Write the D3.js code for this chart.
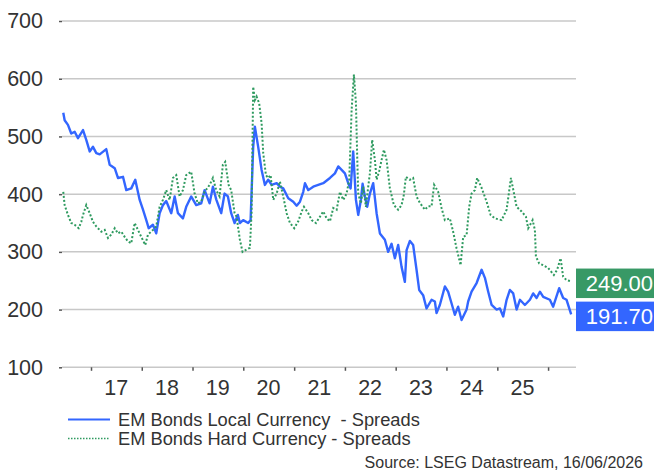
<!DOCTYPE html>
<html>
<head>
<meta charset="utf-8">
<script src="https://cdn.jsdelivr.net/npm/d3@7"></script>
<style>
  body { margin: 0; background: #fff; }
  svg { display: block; font-family: "Liberation Sans", Arial, sans-serif; }
  .legend-text { white-space: pre; }
</style>
</head>
<body>
<div id="chart"></div>
<script>
// Series names
const seriesNames = ["EM Bonds Local Currency  - Spreads", "EM Bonds Hard Currency - Spreads"];

// Local currency spreads (decimal year / value)
const localT = [2016.455,2016.482,2016.547,2016.612,2016.679,2016.744,2016.843,2016.907,2016.974,2017.039,
  2017.104,2017.171,2017.301,2017.368,2017.467,2017.531,2017.630,2017.695,2017.793,2017.872,
  2017.959,2018.024,2018.089,2018.136,2018.220,2018.285,2018.352,2018.417,2018.482,2018.581,
  2018.648,2018.713,2018.811,2018.876,2018.974,2019.073,2019.171,2019.238,2019.337,2019.402,
  2019.467,2019.565,2019.632,2019.697,2019.762,2019.829,2019.894,2019.933,2019.998,2020.096,
  2020.144,2020.195,2020.228,2020.293,2020.360,2020.425,2020.490,2020.557,2020.656,2020.720,
  2020.785,2020.884,2020.982,2021.049,2021.114,2021.179,2021.213,2021.278,2021.376,2021.474,
  2021.573,2021.705,2021.803,2021.868,2021.935,2022.000,2022.065,2022.112,2022.163,2022.217,
  2022.262,2022.315,2022.348,2022.394,2022.439,2022.492,2022.557,2022.624,2022.689,2022.787,
  2022.852,2022.919,2022.984,2023.049,2023.116,2023.181,2023.215,2023.280,2023.344,2023.411,
  2023.463,2023.541,2023.608,2023.707,2023.772,2023.805,2023.870,2023.969,2024.033,2024.100,
  2024.165,2024.230,2024.297,2024.396,2024.427,2024.494,2024.593,2024.691,2024.756,2024.821,
  2024.888,2024.986,2025.051,2025.116,2025.183,2025.248,2025.313,2025.380,2025.445,2025.543,
  2025.642,2025.707,2025.774,2025.839,2025.904,2026.035,2026.100,2026.219,2026.297,2026.364,2026.455];
const localV = [541,528,520,505,508,497,511,494,474,482,
  471,469,478,451,445,428,430,407,410,425,
  390,373,355,341,347,332,367,381,388,367,
  396,367,358,378,396,381,384,407,384,413,
  391,367,401,396,367,350,364,350,355,350,
  355,482,517,482,442,416,425,416,419,413,
  410,393,387,380,387,404,419,407,413,416,
  419,428,436,448,442,436,419,410,474,390,
  364,390,418,396,378,401,419,367,332,321,
  300,314,289,312,274,248,303,319,312,269,
  234,225,202,217,214,194,208,240,231,211,
  191,205,182,200,214,231,246,269,255,231,
  208,200,202,188,217,234,228,200,217,208,
  217,228,220,231,222,217,205,237,220,217,191.7];

// Hard currency spreads (decimal year / value)
const hardT = [2016.455,2016.482,2016.547,2016.612,2016.679,2016.758,2016.809,2016.843,2016.907,2016.974,
  2017.039,2017.104,2017.203,2017.270,2017.335,2017.400,2017.467,2017.531,2017.596,2017.663,
  2017.728,2017.793,2017.860,2017.925,2017.990,2018.069,2018.122,2018.220,2018.285,2018.352,
  2018.417,2018.482,2018.549,2018.614,2018.679,2018.746,2018.811,2018.876,2018.974,2019.041,
  2019.106,2019.171,2019.238,2019.337,2019.402,2019.467,2019.533,2019.598,2019.644,2019.711,
  2019.762,2019.829,2019.868,2019.933,2019.986,2020.065,2020.130,2020.163,2020.195,2020.228,
  2020.262,2020.313,2020.360,2020.392,2020.445,2020.490,2020.537,2020.589,2020.656,2020.720,
  2020.785,2020.852,2020.917,2021.002,2021.081,2021.148,2021.193,2021.278,2021.344,2021.429,
  2021.508,2021.573,2021.640,2021.705,2021.770,2021.837,2021.902,2021.967,2022.033,2022.085,
  2022.132,2022.177,2022.217,2022.242,2022.262,2022.315,2022.360,2022.413,2022.459,2022.492,
  2022.537,2022.591,2022.624,2022.675,2022.722,2022.768,2022.821,2022.886,2022.965,2023.049,
  2023.116,2023.161,2023.201,2023.280,2023.344,2023.411,2023.476,2023.575,2023.640,2023.707,
  2023.758,2023.837,2023.904,2023.969,2024.067,2024.132,2024.199,2024.278,2024.329,2024.396,
  2024.447,2024.494,2024.559,2024.604,2024.691,2024.789,2024.868,2024.953,2025.085,2025.183,
  2025.268,2025.313,2025.380,2025.478,2025.563,2025.608,2025.695,2025.740,2025.760,2025.825,
  2025.904,2026.002,2026.114,2026.179,2026.246,2026.297,2026.364,2026.455];
const hardV = [404,381,364,350,347,341,352,364,381,367,
  352,344,335,338,324,330,341,332,335,326,
  318,315,350,338,326,312,330,338,344,378,
  390,407,390,428,433,396,407,433,439,401,
  384,387,404,416,428,407,396,451,456,416,
  407,367,361,321,300,304,307,367,586,563,
  569,557,523,471,433,428,433,390,401,422,
  396,367,350,341,353,370,378,367,355,350,
  361,370,358,353,376,373,404,390,401,425,
  546,607,558,465,401,384,413,378,413,436,
  494,459,425,440,459,477,459,410,381,373,
  381,399,430,425,428,396,385,373,379,379,
  416,404,376,355,358,335,306,277,326,329,
  378,401,407,428,411,387,364,358,355,373,
  428,408,378,370,361,341,355,338,292,280,
  277,272,260,269,289,257,251,249];

// Axis labels
const yTicks = [100, 200, 300, 400, 500, 600, 700];
const yearLabels = ["17", "18", "19", "20", "21", "22", "23", "24", "25"];
const endLabels = ["191.70", "249.00"];
const sourceText = "Source: LSEG Datastream, 16/06/2026";

const colors = { local: "#3366ff", hard: "#2e9a5f", localBox: "#3366ff", hardBox: "#389966" };

// decimal year -> Date
function toDate(t) {
  const y = Math.floor(t);
  const s = new Date(y, 0, 1), e = new Date(y + 1, 0, 1);
  return new Date(+s + (t - y) * (e - s));
}

const W = 654, H = 474;
const plot = { left: 62, right: 576, top: 21, bottom: 367.3 };

const svg = d3.select("#chart").append("svg")
  .attr("width", W)
  .attr("height", H);

const x = d3.scaleTime()
  .domain([toDate(2016.43), toDate(2026.55)])
  .range([plot.left, plot.right]);

const y = d3.scaleLinear()
  .domain([100, 700])
  .range([plot.bottom, plot.top]);

// gridlines
svg.append("g")
  .selectAll("line")
  .data(yTicks)
  .enter().append("line")
  .attr("x1", plot.left)
  .attr("x2", plot.right)
  .attr("y1", d => y(d))
  .attr("y2", d => y(d))
  .attr("stroke", "#c8c8c8")
  .attr("stroke-width", 1.5);

// y axis: little ticks + labels
const yAxis = svg.append("g")
  .attr("transform", `translate(${plot.left},0)`)
  .call(d3.axisLeft(y).tickValues(yTicks).tickSize(3).tickPadding(16));
yAxis.select(".domain").remove();
yAxis.selectAll(".tick line").attr("stroke", "#555").attr("stroke-width", 1.5);
yAxis.selectAll(".tick text")
  .attr("fill", "#333")
  .style("font-size", "21.5px")
  .style("font-family", "Liberation Sans, Arial, sans-serif");

// x axis: ticks at year starts, labels mid-year
const yearStarts = d3.range(2017, 2027).map(yy => new Date(yy, 0, 1));
const xAxis = svg.append("g")
  .attr("transform", `translate(0,${plot.bottom})`)
  .call(d3.axisBottom(x).tickValues(yearStarts).tickSize(3.5).tickFormat(""));
xAxis.select(".domain").remove();
xAxis.selectAll(".tick line").attr("stroke", "#555").attr("stroke-width", 1.5);

svg.append("g")
  .selectAll("text")
  .data(yearLabels)
  .enter().append("text")
  .attr("x", (d, i) => x(new Date(2017 + i, 6, 1)))
  .attr("y", 394.5)
  .attr("text-anchor", "middle")
  .attr("fill", "#333")
  .style("font-size", "21.5px")
  .text(d => d);

// lines
const line = d3.line()
  .x(d => x(toDate(d[0])))
  .y(d => y(d[1]));

const localData = d3.zip(localT, localV);
const hardData = d3.zip(hardT, hardV);

svg.append("path")
  .datum(localData)
  .attr("fill", "none")
  .attr("stroke", colors.local)
  .attr("stroke-width", 2.4)
  .attr("stroke-linejoin", "round")
  .attr("d", line);

svg.append("path")
  .datum(hardData)
  .attr("fill", "none")
  .attr("stroke", colors.hard)
  .attr("stroke-width", 2)
  .attr("stroke-dasharray", "2,2")
  .attr("d", line);

// end value boxes
const boxes = [
  { v: hardV[hardV.length - 1], label: endLabels[1], fill: colors.hardBox },
  { v: localV[localV.length - 1], label: endLabels[0], fill: colors.localBox }
];
const boxH = 29.5;
const bg = svg.append("g")
  .selectAll("g")
  .data(boxes)
  .enter().append("g")
  .attr("transform", d => `translate(${plot.right},${y(d.v) + 2 - boxH / 2})`);
bg.append("rect")
  .attr("width", W - plot.right)
  .attr("height", boxH)
  .attr("fill", d => d.fill);
bg.append("text")
  .attr("x", W - plot.right - 1)
  .attr("y", boxH / 2 + 8)
  .attr("text-anchor", "end")
  .attr("fill", "#fff")
  .style("font-size", "22px")
  .text(d => d.label);

// legend
const legend = svg.append("g");
const legendRows = [
  { name: seriesNames[0], color: colors.local, dash: null, w: 2.2 },
  { name: seriesNames[1], color: colors.hard, dash: "1.5,1.5", w: 1.5 }
];
legendRows.forEach((r, i) => {
  const ly = 419.5 + i * 19;
  legend.append("line")
    .attr("x1", 68).attr("x2", 110)
    .attr("y1", ly).attr("y2", ly)
    .attr("stroke", r.color)
    .attr("stroke-width", r.w)
    .attr("stroke-dasharray", r.dash);
  legend.append("text")
    .attr("class", "legend-text")
    .attr("x", 118)
    .attr("y", ly + 6.5)
    .attr("fill", "#333")
    .style("font-size", "18.3px")
    .text(r.name);
});

// source
svg.append("text")
  .attr("x", 643)
  .attr("y", 468)
  .attr("text-anchor", "end")
  .attr("fill", "#333")
  .style("font-size", "16px")
  .text(sourceText);
</script>
</body>
</html>
